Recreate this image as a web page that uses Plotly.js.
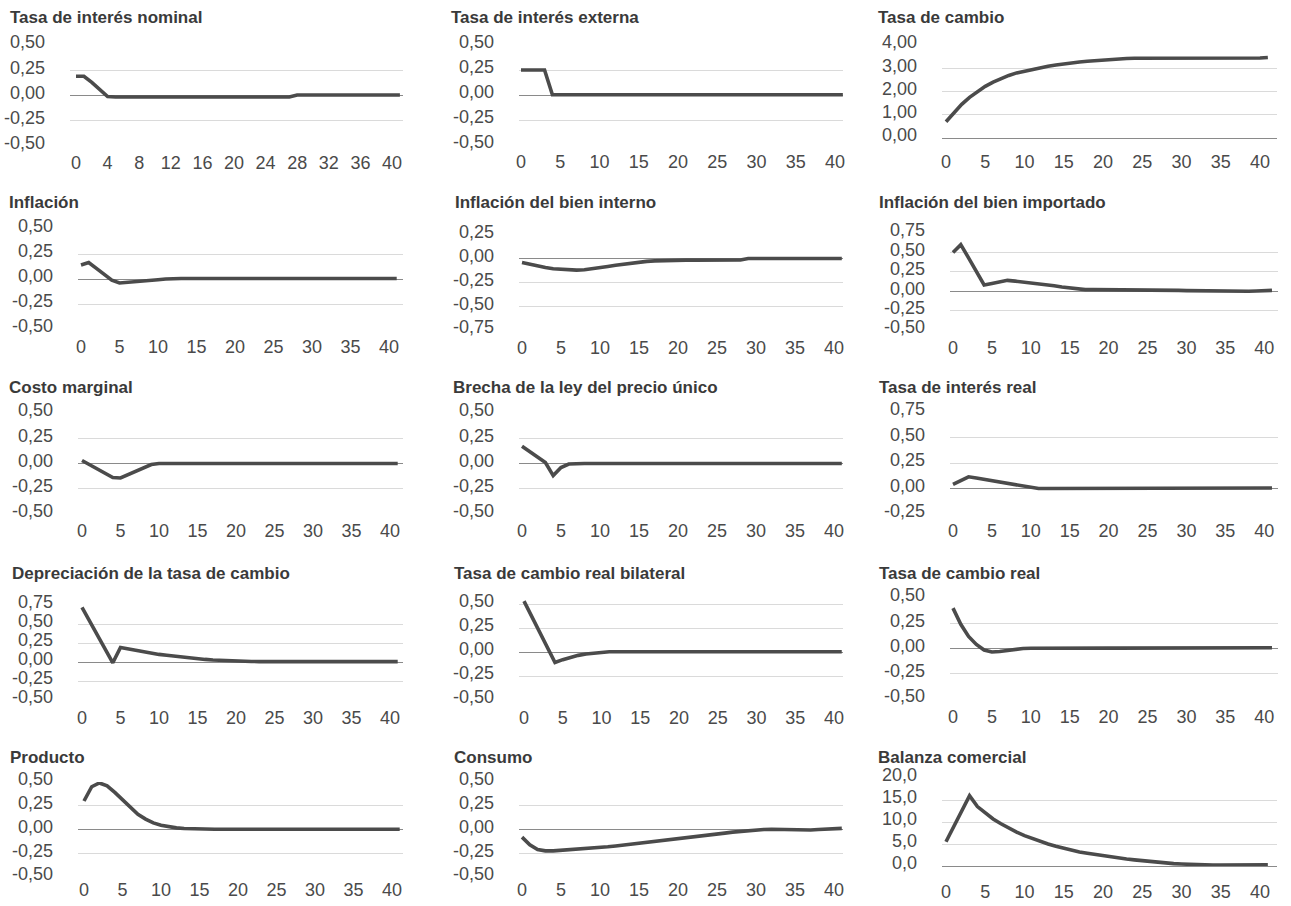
<!DOCTYPE html>
<html><head><meta charset="utf-8">
<script src="https://cdn.plot.ly/plotly-3.0.1.min.js"></script>
<style>html,body{margin:0;padding:0;background:#fff}#chart{width:1291px;height:906px}</style>
</head><body><div id="chart"></div>
<script>
// ---------- DATA ----------
const periods = [0,1,2,3,4,5,6,7,8,9,10,11,12,13,14,15,16,17,18,19,20,21,22,23,24,25,26,27,28,29,30,31,32,33,34,35,36,37,38,39,40,41];

const tasaNominal = [0.19,0.19,0.13,0.06,-0.01,-0.015,-0.015,-0.015,-0.015,-0.015,-0.015,-0.015,-0.015,-0.015,-0.015,-0.015,-0.015,-0.015,-0.015,-0.015,-0.015,-0.015,-0.015,-0.015,-0.015,-0.015,-0.015,-0.015,0.005,0.005,0.005,0.005,0.005,0.005,0.005,0.005,0.005,0.005,0.005,0.005,0.005,0.005];
const tasaExterna = [0.25,0.25,0.25,0.25,0.002,0.002,0.002,0.002,0.002,0.002,0.002,0.002,0.002,0.002,0.002,0.002,0.002,0.002,0.002,0.002,0.002,0.002,0.002,0.002,0.002,0.002,0.002,0.002,0.002,0.002,0.002,0.002,0.002,0.002,0.002,0.002,0.002,0.002,0.002,0.002,0.002,0.002];
const tasaCambio = [0.70,1.10,1.45,1.75,2.00,2.22,2.40,2.56,2.69,2.80,2.88,2.96,3.03,3.09,3.14,3.19,3.23,3.27,3.30,3.33,3.36,3.38,3.40,3.42,3.43,3.43,3.43,3.43,3.43,3.43,3.42,3.42,3.41,3.41,3.41,3.41,3.41,3.41,3.42,3.43,3.44,3.46];
const inflacion = [0.14,0.165,0.106,0.047,-0.012,-0.04,-0.035,-0.03,-0.022,-0.015,-0.008,0.0,0.005,0.005,0.005,0.005,0.005,0.005,0.005,0.005,0.005,0.005,0.005,0.005,0.005,0.005,0.005,0.005,0.005,0.005,0.005,0.005,0.005,0.005,0.005,0.005,0.005,0.005,0.005,0.005,0.005,0.005];
const inflacionInterno = [-0.04,-0.06,-0.078,-0.093,-0.105,-0.113,-0.118,-0.12,-0.116,-0.107,-0.095,-0.082,-0.069,-0.057,-0.046,-0.036,-0.028,-0.022,-0.018,-0.016,-0.015,-0.015,-0.015,-0.015,-0.015,-0.015,-0.015,-0.015,-0.013,0.002,0.002,0.002,0.002,0.002,0.002,0.002,0.002,0.002,0.002,0.002,0.002,0.002];
const inflacionImportado = [0.50,0.60,0.43,0.25,0.08,0.10,0.12,0.14,0.13,0.12,0.11,0.10,0.085,0.07,0.055,0.04,0.028,0.02,0.02,0.02,0.02,0.02,0.02,0.018,0.017,0.016,0.015,0.014,0.012,0.01,0.008,0.006,0.004,0.003,0.002,0.001,0.0,0.0,0.0,0.003,0.008,0.01];
const costoMarginal = [0.03,-0.012,-0.054,-0.097,-0.139,-0.143,-0.11,-0.077,-0.043,-0.01,0.0,0.0,0.0,0.0,0.0,0.0,0.0,0.0,0.0,0.0,0.0,0.0,0.0,0.0,0.0,0.0,0.0,0.0,0.0,0.0,0.0,0.0,0.0,0.0,0.0,0.0,0.0,0.0,0.0,0.0,0.0,0.0];
const brechaPrecio = [0.17,0.12,0.07,0.01,-0.12,-0.04,-0.005,0.0,0.0,0.0,0.0,0.0,0.0,0.0,0.0,0.0,0.0,0.0,0.0,0.0,0.0,0.0,0.0,0.0,0.0,0.0,0.0,0.0,0.0,0.0,0.0,0.0,0.0,0.0,0.0,0.0,0.0,0.0,0.0,0.0,0.0,0.0];
const tasaReal = [0.04,0.08,0.115,0.102,0.09,0.077,0.064,0.051,0.038,0.026,0.013,0.0,0.0,0.0,0.0,0.0,0.0,0.0,0.0,0.0,0.0,0.0,0.0,0.0,0.0,0.0,0.0,0.0,0.0,0.0,0.0,0.0,0.0,0.0,0.0,0.0,0.0,0.0,0.0,0.0,0.003,0.005];
const depreciacion = [0.72,0.54,0.36,0.18,-0.01,0.19,0.17,0.15,0.13,0.115,0.10,0.088,0.075,0.063,0.052,0.042,0.034,0.027,0.021,0.016,0.012,0.009,0.007,0.005,0.005,0.005,0.005,0.005,0.005,0.005,0.005,0.005,0.005,0.005,0.005,0.005,0.005,0.005,0.005,0.005,0.005,0.005];
const cambioRealBilateral = [0.53,0.37,0.21,0.05,-0.11,-0.08,-0.055,-0.035,-0.02,-0.01,-0.004,0.003,0.003,0.003,0.003,0.003,0.003,0.003,0.003,0.003,0.003,0.003,0.003,0.003,0.003,0.003,0.003,0.003,0.003,0.003,0.003,0.003,0.003,0.003,0.003,0.003,0.003,0.003,0.003,0.003,0.003,0.003];
const cambioReal = [0.40,0.24,0.12,0.04,-0.015,-0.035,-0.03,-0.02,-0.008,0.0,0.003,0.004,0.004,0.004,0.004,0.004,0.004,0.004,0.004,0.004,0.004,0.004,0.004,0.004,0.004,0.004,0.004,0.004,0.004,0.004,0.004,0.004,0.004,0.004,0.004,0.004,0.004,0.004,0.004,0.004,0.006,0.008];
const producto = [0.30,0.45,0.49,0.46,0.39,0.31,0.23,0.16,0.11,0.07,0.045,0.028,0.017,0.01,0.006,0.004,0.002,0.002,0.002,0.002,0.002,0.002,0.002,0.002,0.002,0.002,0.002,0.002,0.002,0.002,0.002,0.002,0.002,0.002,0.002,0.002,0.002,0.002,0.002,0.002,0.002,0.002];
const consumo = [-0.08,-0.16,-0.21,-0.225,-0.225,-0.22,-0.215,-0.21,-0.204,-0.197,-0.19,-0.182,-0.174,-0.165,-0.156,-0.147,-0.138,-0.128,-0.118,-0.108,-0.098,-0.088,-0.078,-0.068,-0.058,-0.048,-0.038,-0.028,-0.019,-0.011,-0.004,0.0,0.002,0.0,-0.004,-0.008,-0.008,-0.005,0.0,0.005,0.01,0.012];
const balanzaComercial = [5.5,9.0,12.5,16.0,13.5,12.0,10.7,9.6,8.6,7.7,6.9,6.2,5.6,5.0,4.5,4.0,3.6,3.2,2.9,2.6,2.3,2.0,1.8,1.6,1.4,1.2,1.0,0.85,0.7,0.55,0.45,0.35,0.3,0.25,0.2,0.2,0.2,0.2,0.2,0.25,0.3,0.3];

// tick values / labels
const xTicks5 = [0,5,10,15,20,25,30,35,40];
const xTicks4 = [0,4,8,12,16,20,24,28,32,36,40];
const yTicksA = [-0.5,-0.25,0,0.25,0.5];
const yTextA = ['-0,50','-0,25','0,00','0,25','0,50'];
const yTicksB = [0,1,2,3,4];
const yTextB = ['0,00','1,00','2,00','3,00','4,00'];
const yTicksC = [-0.75,-0.5,-0.25,0,0.25];
const yTextC = ['-0,75','-0,50','-0,25','0,00','0,25'];
const yTicksD = [-0.5,-0.25,0,0.25,0.5,0.75];
const yTextD = ['-0,50','-0,25','0,00','0,25','0,50','0,75'];
const yTicksE = [-0.25,0,0.25,0.5,0.75];
const yTextE = ['-0,25','0,00','0,25','0,50','0,75'];
const yTicksF = [0,5,10,15,20];
const yTextF = ['0,0','5,0','10,0','15,0','20,0'];

// ---------- LAYOUT ----------
const W = 1291, H = 906;
const TICKFONT = {family:'"Liberation Sans Narrow","Liberation Sans",Arial,sans-serif', size:18, color:'#4a4a4a'};
const TITLEFONT = {family:'"Liberation Sans",Arial,sans-serif', size:17, color:'#3a3a3a'};

// l,r = plot px extents, x0 = px of period 0, ppu = px per period; yv = tick values at pixels px=[bot,top]; yr = axis range if wider
const panels = [
  {title:'Tasa de interés nominal', y:tasaNominal, xt:xTicks4, yt:yTicksA, ytx:yTextA, l:70, r:403, x0:76, ppu:7.9, yv:[-0.5,0.5], px:[146,45], xs:4, tx:8, ty:18},
  {title:'Tasa de interés externa', y:tasaExterna, xt:xTicks5, yt:yTicksA, ytx:yTextA, l:519, r:843, x0:521, ppu:7.85, yv:[-0.5,0.5], px:[145,45], xs:4, tx:449, ty:18},
  {title:'Tasa de cambio', y:tasaCambio, xt:xTicks5, yt:yTicksB, ytx:yTextB, l:942, r:1277, x0:946, ppu:7.85, yv:[0,4], px:[138,45], xs:11, tx:876, ty:18},
  {title:'Inflación', y:inflacion, xt:xTicks5, yt:yTicksA, ytx:yTextA, l:78, r:403, x0:81, ppu:7.7, yv:[-0.5,0.5], px:[329,229], xs:5, tx:7, ty:202},
  {title:'Inflación del bien interno', y:inflacionInterno, xt:xTicks5, yt:yTicksC, ytx:yTextC, l:519, r:843, x0:522, ppu:7.8, yv:[-0.75,0.25], px:[330,235], xs:5, tx:453, ty:202},
  {title:'Inflación del bien importado', y:inflacionImportado, xt:xTicks5, yt:yTicksD, ytx:yTextD, l:950, r:1278, x0:953, ppu:7.78, yv:[-0.5,0.75], px:[330,233], xs:5, tx:877, ty:202},
  {title:'Costo marginal', y:costoMarginal, xt:xTicks5, yt:yTicksA, ytx:yTextA, l:78, r:403, x0:82, ppu:7.7, yv:[-0.5,0.5], px:[514,413], xs:4, tx:7, ty:388},
  {title:'Brecha de la ley del precio único', y:brechaPrecio, xt:xTicks5, yt:yTicksA, ytx:yTextA, l:519, r:843, x0:522, ppu:7.8, yv:[-0.5,0.5], px:[514,413], xs:4, tx:451, ty:388},
  {title:'Tasa de interés real', y:tasaReal, xt:xTicks5, yt:yTicksE, ytx:yTextE, l:950, r:1278, x0:953, ppu:7.78, yv:[-0.25,0.75], px:[514,412], xs:4, tx:877, ty:388},
  {title:'Depreciación de la tasa de cambio', y:depreciacion, xt:xTicks5, yt:yTicksD, ytx:yTextD, l:78, r:403, x0:82, ppu:7.7, yv:[-0.5,0.75], px:[700,605], xs:5, tx:10, ty:573},
  {title:'Tasa de cambio real bilateral', y:cambioRealBilateral, xt:xTicks5, yt:yTicksA, ytx:yTextA, l:519, r:843, x0:524, ppu:7.75, yv:[-0.5,0.5], px:[700,604], yr:[-0.5,0.6], xs:5, tx:452, ty:573},
  {title:'Tasa de cambio real', y:cambioReal, xt:xTicks5, yt:yTicksA, ytx:yTextA, l:950, r:1278, x0:953, ppu:7.78, yv:[-0.5,0.5], px:[699,598], xs:5, tx:877, ty:573},
  {title:'Producto', y:producto, xt:xTicks5, yt:yTicksA, ytx:yTextA, l:78, r:403, x0:84, ppu:7.7, yv:[-0.5,0.5], px:[877,782], xs:0, tx:8, ty:757},
  {title:'Consumo', y:consumo, xt:xTicks5, yt:yTicksA, ytx:yTextA, l:519, r:843, x0:522, ppu:7.8, yv:[-0.5,0.5], px:[877,782], xs:0, tx:452, ty:757},
  {title:'Balanza comercial', y:balanzaComercial, xt:xTicks5, yt:yTicksF, ytx:yTextF, l:942, r:1277, x0:946, ppu:7.85, yv:[0,20], px:[866,778], xs:13, tx:876, ty:757}
];

const data = [];
const layout = {
  width:W, height:H, margin:{l:0,r:0,t:0,b:0},
  paper_bgcolor:'#ffffff', plot_bgcolor:'rgba(0,0,0,0)',
  showlegend:false, annotations:[], separators:', '
};

panels.forEach((p, i) => {
  const n = i === 0 ? '' : String(i + 1);
  const xr = [(p.l - p.x0) / p.ppu, (p.r - p.x0) / p.ppu];
  const yr = p.yr || p.yv;
  const yppu = (p.px[0] - p.px[1]) / (p.yv[1] - p.yv[0]);
  const botPx = p.px[0] + (p.yv[0] - yr[0]) * yppu;
  const topPx = p.px[0] - (yr[1] - p.yv[0]) * yppu;
  data.push({
    type:'scatter', mode:'lines', x:periods, y:p.y,
    xaxis:'x' + n, yaxis:'y' + n,
    line:{color:'#4b4b4b', width:3.6}, hoverinfo:'skip'
  });
  layout['xaxis' + n] = {
    domain:[p.l / W, p.r / W], range:xr, anchor:'y' + n,
    tickmode:'array', tickvals:p.xt, ticktext:p.xt.map(String),
    showgrid:false, zeroline:false, showline:false, ticks:'',
    tickfont:TICKFONT, ticklabelstandoff:p.xs, fixedrange:true
  };
  layout['yaxis' + n] = {
    domain:[1 - botPx / H, 1 - topPx / H], range:yr, anchor:'x' + n,
    tickmode:'array', tickvals:p.yt, ticktext:p.ytx,
    showgrid:true, gridcolor:'#dadada', gridwidth:1,
    zeroline:true, zerolinecolor:'#8a8a8a', zerolinewidth:1,
    showline:false, ticks:'', tickfont:TICKFONT, ticklabelstandoff:24, ticklabelshift:-3,
    fixedrange:true
  };
  layout.annotations.push({
    text:'<b>' + p.title + '</b>', xref:'paper', yref:'paper',
    x:p.tx / W, y:1 - p.ty / H, xanchor:'left', yanchor:'middle',
    showarrow:false, font:TITLEFONT
  });
});

Plotly.newPlot('chart', data, layout, {displayModeBar:false, staticPlot:true});
</script>
</body></html>
